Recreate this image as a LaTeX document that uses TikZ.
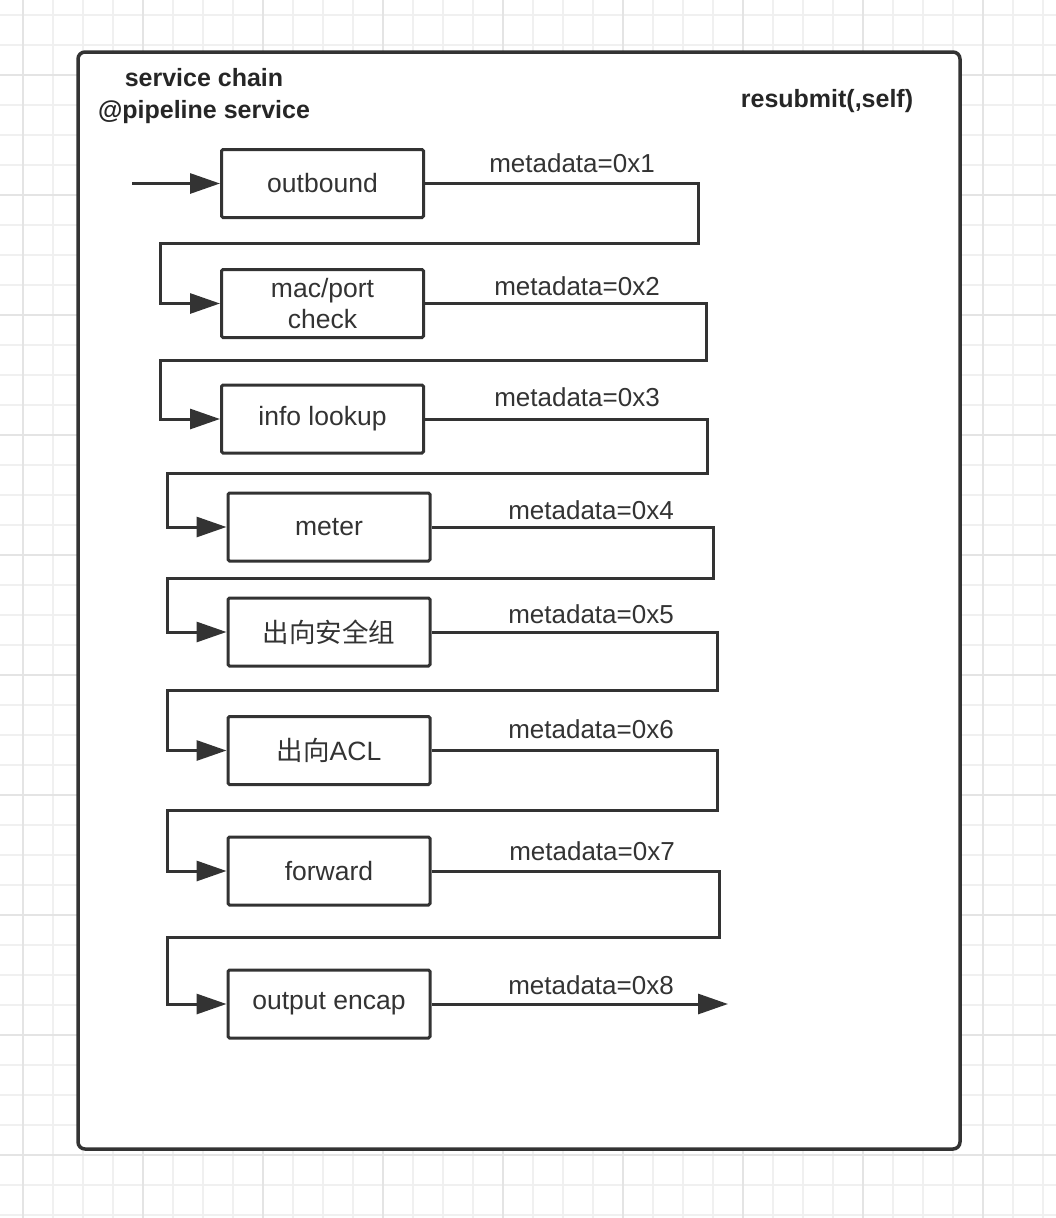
\documentclass[tikz,border=0pt]{standalone}
\usepackage{fontspec}
\setmainfont{Liberation Sans}
\newfontfamily\cjkfont{Noto Sans CJK SC}
\usepackage{tikz}
\usetikzlibrary{arrows.meta}
\definecolor{inkgray}{HTML}{333333}
\definecolor{gridminor}{HTML}{F0F0F0}
\definecolor{gridmajor}{HTML}{E4E4E4}
\tikzset{
  stage_box/.style = {rectangle, draw=inkgray, line width=3pt, rounded corners=1.5pt, fill=white,
    minimum width=202pt, minimum height=68pt, inner sep=0pt, align=center, text=inkgray,
    font=\fontsize{26.5}{31}\selectfont},
  % metadata labels over the outgoing lines
  meta_label/.style = {inner sep=0pt, text=inkgray, font=\fontsize{26}{30}\selectfont},
  head_label/.style = {inner sep=0pt, align=center, text=black!85, font=\fontsize{25}{31.5}\selectfont\bfseries},
  chain_frame/.style = {rectangle, draw=inkgray, line width=3.5pt, rounded corners=7pt, fill=white,
    minimum width=882pt, minimum height=1097pt, inner sep=0pt},
  flow_line/.style = {draw=inkgray, line width=3pt, -{Triangle[length=30pt,width=20pt]}},
  grid_line/.style = {draw=gridminor, line width=2pt},
  grid_major/.style = {draw=gridmajor, line width=2pt}
}

\begin{document}
\begin{tikzpicture}[x=1pt,y=-1pt]
	\useasboundingbox (0,0) rectangle (1056,1218);
	% background grid:
	\foreach \gx in {23,53,...,1043} \draw[grid_line] (\gx,0) -- (\gx,1218);
	\foreach \gy in {15,45,...,1215} \draw[grid_line] (0,\gy) -- (1056,\gy);
	\foreach \gx in {23,143,...,983} \draw[grid_major] (\gx,0) -- (\gx,1218);
	\foreach \gy in {75,195,...,1155} \draw[grid_major] (0,\gy) -- (1056,\gy);
	% Container:
	\node [chain_frame] (chain) at (519,600.5) {};
	\node [head_label] (title) at (204,96) {service chain\\@pipeline service};
	\node [head_label] (resubmit) at (827,101) {resubmit(,self)};
	% Stages:
	\node [stage_box] (outbound) at (322.5,183.5) {outbound};
	\node [stage_box] (macport) at (322.5,303.5) {mac/port\\check};
	\node [stage_box] (infolookup) at (322.5,419) {info lookup};
	\node [stage_box] (meter) at (329,527) {meter};
	\node [stage_box] (secgroup) at (329,632) {{\cjkfont 出向安全组}};
	\node [stage_box] (acl) at (329,750.5) {{\cjkfont 出向}ACL};
	\node [stage_box] (forward) at (329,871) {forward};
	\node [stage_box] (encap) at (329,1004) {output encap};
	% bend points of the connectors:
	\coordinate (entry) at (132,183.5);
	\coordinate (r1) at (698,243);  \coordinate (l1) at (160,243);
	\coordinate (r2) at (706,360);  \coordinate (l2) at (160,360);
	\coordinate (r3) at (707,473);  \coordinate (l3) at (167,473);
	\coordinate (r4) at (713,578);  \coordinate (l4) at (167,578);
	\coordinate (r5) at (717,690);  \coordinate (l5) at (167,690);
	\coordinate (r6) at (717,810);  \coordinate (l6) at (167,810);
	\coordinate (r7) at (719,937);  \coordinate (l7) at (167,937);
	\coordinate (exit) at (728,1004);
	% Connectors:
	\draw [flow_line] (entry) -- (outbound.west);
	\draw [flow_line] (outbound.east) -| (r1) -- (l1) |- (macport.west);
	\draw [flow_line] (macport.east) -| (r2) -- (l2) |- (infolookup.west);
	\draw [flow_line] (infolookup.east) -| (r3) -- (l3) |- (meter.west);
	\draw [flow_line] (meter.east) -| (r4) -- (l4) |- (secgroup.west);
	\draw [flow_line] (secgroup.east) -| (r5) -- (l5) |- (acl.west);
	\draw [flow_line] (acl.east) -| (r6) -- (l6) |- (forward.west);
	\draw [flow_line] (forward.east) -| (r7) -- (l7) |- (encap.west);
	\draw [flow_line] (encap.east) -- (exit);
	% metadata labels:
	\node [meta_label] (meta1) at (572,163) {metadata=0x1};
	\node [meta_label] (meta2) at (577,286) {metadata=0x2};
	\node [meta_label] (meta3) at (577,397) {metadata=0x3};
	\node [meta_label] (meta4) at (591,510) {metadata=0x4};
	\node [meta_label] (meta5) at (591,614) {metadata=0x5};
	\node [meta_label] (meta6) at (591,729) {metadata=0x6};
	\node [meta_label] (meta7) at (592,851) {metadata=0x7};
	\node [meta_label] (meta8) at (591,985) {metadata=0x8};
\end{tikzpicture}
\end{document}
